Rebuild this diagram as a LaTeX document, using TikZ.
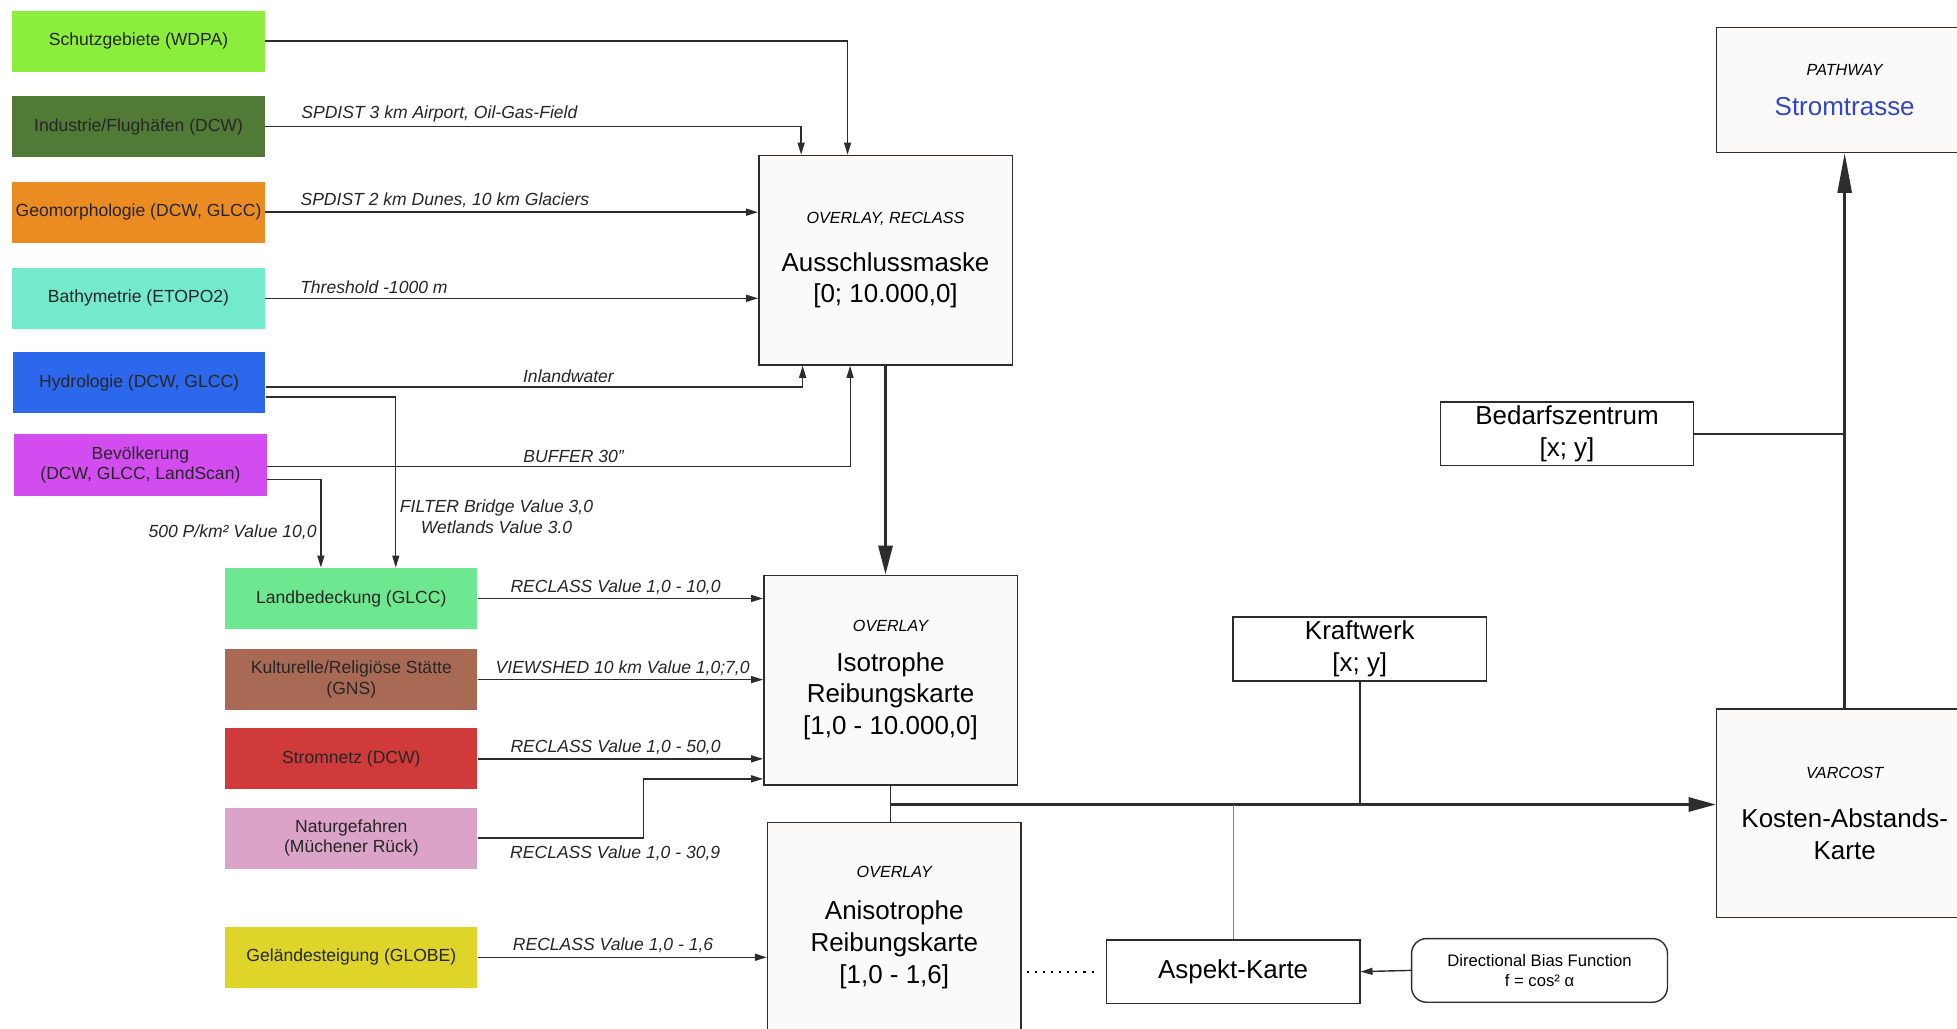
\documentclass[tikz,border=0pt]{standalone}
\usepackage{fontspec}
\setmainfont{Liberation Sans}
\usetikzlibrary{arrows.meta,positioning,calc}
\definecolor{rahmen}{RGB}{45,45,45}
\definecolor{kartebg}{RGB}{251,250,249}
\definecolor{cschutz}{RGB}{140,238,60}
\definecolor{cindustrie}{RGB}{80,122,54}
\definecolor{cgeomorph}{RGB}{234,140,34}
\definecolor{cbathy}{RGB}{116,234,204}
\definecolor{chydro}{RGB}{44,104,236}
\definecolor{cbevoelk}{RGB}{210,76,240}
\definecolor{clandbed}{RGB}{110,232,144}
\definecolor{ckultur}{RGB}{168,106,84}
\definecolor{cstrom}{RGB}{208,58,58}
\definecolor{cnatur}{RGB}{219,163,200}
\definecolor{cgelaende}{RGB}{222,212,42}
\definecolor{trasse}{RGB}{50,70,200}
\tikzset{quelle/.style={minimum width=5.05cm,minimum height=1.225cm,inner sep=2pt,align=center,font=\fontsize{10}{11.8}\selectfont,text=black!85},
  karte/.style={draw=rahmen,line width=0.8pt,fill=kartebg,minimum width=5.075cm,minimum height=4.2cm,align=center,font=\fontsize{14.8}{18.1}\selectfont},
  punkt/.style={draw=rahmen,line width=0.8pt,fill=white,minimum width=5.075cm,minimum height=1.275cm,inner sep=2pt,align=center,font=\fontsize{14.8}{18.1}\selectfont},
  flow/.style={-{Triangle[length=2.4mm,width=1.4mm]},line width=0.8pt,rahmen},
  bigflow/.style={-{Triangle[length=5.8mm,width=2.8mm]},line width=1.8pt,rahmen},
  lbl/.style={font=\fontsize{10}{12}\selectfont\itshape,text=black!85,inner sep=2pt,align=center}}
\newcommand{\kopf}[1]{{\fontsize{9.2}{11}\selectfont\itshape #1}}

\begin{document}
\begin{tikzpicture}[x=0.025cm,y=-0.025cm]
\useasboundingbox (0,0) rectangle (1568,824);
\fill[white] (0,0) rectangle (1568,824);
\node[quelle,fill=cschutz] (schutz) at (111,33) {Schutzgebiete (WDPA)};
\node[quelle,fill=cindustrie] (industrie) at (111,101.5) {Industrie/Flughäfen (DCW)};
\node[quelle,fill=cgeomorph] (geomorph) at (111,170) {Geomorphologie (DCW, GLCC)};
\node[quelle,fill=cbathy] (bathy) at (111,239) {Bathymetrie (ETOPO2)};
\node[quelle,fill=chydro] (hydro) at (111.5,306.5) {Hydrologie (DCW, GLCC)};
\node[quelle,fill=cbevoelk] (bevoelk) at (112.5,372.5) {Bevölkerung\\(DCW, GLCC, LandScan)};
\node[quelle,fill=clandbed] (landbed) at (281.5,479.5) {Landbedeckung (GLCC)};
\node[quelle,fill=ckultur] (kultur) at (281.5,544.5) {Kulturelle/Religiöse Stätte\\(GNS)};
\node[quelle,fill=cstrom] (stromnetz) at (281.5,608) {Stromnetz (DCW)};
\node[quelle,fill=cnatur] (natur) at (281.5,671.5) {Naturgefahren\\(Müchener Rück)};
\node[quelle,fill=cgelaende] (gelaende) at (281.5,767) {Geländesteigung (GLOBE)};
\node[karte] (ausschluss) at (709.5,208.5) {\kopf{OVERLAY, RECLASS}\\[9pt]Ausschlussmaske\\{}[0; 10.000,0]};
\node[karte] (isotrop) at (713.5,545) {\kopf{OVERLAY}\\[4.5pt]Isotrophe\\Reibungskarte\\{}[1,0 - 10.000,0]};
\node[karte] (anisotrop) at (716.5,743) {\kopf{OVERLAY}\\[6pt]Anisotrophe\\Reibungskarte\\{}[1,0 - 1,6]};
\node[karte,minimum width=5.125cm,minimum height=2.5cm] (pfad) at (1478,72) {\kopf{PATHWAY}\\[5pt]\textcolor{trasse}{Stromtrasse}};
\node[karte,minimum width=5.125cm,minimum height=4.175cm] (kosten) at (1478,651.5) {\kopf{VARCOST}\\[10pt]Kosten-Abstands-\\Karte};
\node[punkt] (bedarf) at (1255.5,347.5) {Bedarfszentrum\\{}[x; y]};
\node[punkt] (kraftwerk) at (1089.5,520) {Kraftwerk\\{}[x; y]};
\node[punkt] (aspekt) at (988,778.5) {Aspekt-Karte};
\node[punkt,rounded corners=0.3cm,minimum width=5.125cm,font=\fontsize{9.5}{11.5}\selectfont] (bias) at (1233.5,777.5) {Directional Bias Function\\f = cos² α};

\draw[flow] (schutz.east) -| ([xshift=-0.76cm]ausschluss.north);
\draw[flow] (industrie.east) -| node[lbl,pos=0.03,anchor=south west] {SPDIST 3 km Airport, Oil-Gas-Field} ([xshift=-1.69cm]ausschluss.north);
\draw[flow] (geomorph.east) -- node[lbl,pos=0.063,anchor=south west] {SPDIST 2 km Dunes, 10 km Glaciers} (geomorph.east -| ausschluss.west);
\draw[flow] (bathy.east) -- node[lbl,pos=0.063,anchor=south west] {Threshold -1000 m} (bathy.east -| ausschluss.west);
\draw[flow] ([yshift=-0.09cm]hydro.east) -| node[lbl,pos=0.282,anchor=south] {Inlandwater} ([xshift=-1.66cm]ausschluss.south);
\draw[flow] ([yshift=-0.29cm]hydro.east) -| node[lbl,pos=0.85,anchor=west] {FILTER Bridge Value 3,0\\Wetlands Value 3.0} ([xshift=0.89cm]landbed.north);
\draw[flow,line width=0.6pt] ([yshift=-0.04cm]bevoelk.east) -| node[lbl,pos=0.263,anchor=south] {BUFFER 30''} ([xshift=-0.71cm]ausschluss.south);
\draw[flow] ([yshift=-0.29cm]bevoelk.east) -| node[lbl,pos=0.8,anchor=east] {500 P/km² Value 10,0} ([xshift=-0.61cm]landbed.north);
\draw[bigflow] (ausschluss.south) -- (ausschluss.south |- isotrop.north);
\draw[flow] (landbed.east) -- node[lbl,pos=0.1,anchor=south west] {RECLASS Value 1,0 - 10,0} (landbed.east -| isotrop.west);
\draw[flow] (kultur.east) -- node[lbl,pos=0.048,anchor=south west] {VIEWSHED 10 km Value 1,0;7,0} (kultur.east -| isotrop.west);
\draw[flow] (stromnetz.east) -- node[lbl,pos=0.1,anchor=south west] {RECLASS Value 1,0 - 50,0} (stromnetz.east -| isotrop.west);
\draw[flow] (natur.east) -- node[lbl,pos=0.17,anchor=north west,yshift=-2pt] {RECLASS Value 1,0 - 30,9} ++(133,0) |- ([yshift=-1.975cm]isotrop.west);
\draw[flow] (gelaende.east) -- node[lbl,pos=0.107,anchor=south west] {RECLASS Value 1,0 - 1,6} (gelaende.east -| anisotrop.west);
\coordinate (knoten) at ($(isotrop.south)+(0,15)$);
\draw[line width=1pt,rahmen] (isotrop.south) -- (isotrop.south |- anisotrop.north);
\draw[bigflow,-{Triangle[length=5.5mm,width=2.8mm]}] (knoten) -- (knoten -| kosten.west);
\draw[line width=0.8pt,rahmen] (kraftwerk.south) -- (kraftwerk.south |- knoten);
\draw[line width=0.5pt,gray] (aspekt.north) -- (aspekt.north |- knoten);
\draw[line width=1.2pt,dash pattern=on 1.2pt off 3.4pt,shorten <=3pt,shorten >=4pt] (aspekt.west -| anisotrop.east) -- (aspekt.west);
\draw[flow] (bias.west) -- (aspekt.east);
\draw[bigflow,-{Triangle[length=8mm,width=2.8mm]},line width=1.6pt] (kosten.north) -- (pfad.south);
\draw[line width=1.2pt,rahmen] (bedarf.east) -- (bedarf.east -| kosten.north);
\end{tikzpicture}
\end{document}
